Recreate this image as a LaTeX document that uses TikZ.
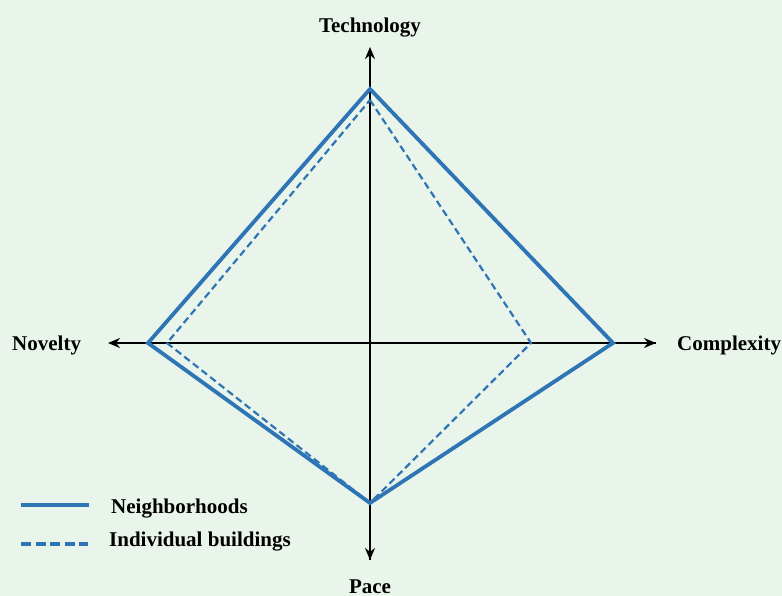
\documentclass[tikz,border=0pt]{standalone}
\usepackage{fontspec}
\setmainfont{Liberation Serif}
\usetikzlibrary{arrows.meta}
\definecolor{bgcol}{RGB}{233,244,234}
\definecolor{lineblue}{RGB}{46,117,182}
\begin{document}
\begin{tikzpicture}[x=1pt,y=-1pt,
    axis/.style={line width=2.5pt,-{Stealth[length=12pt,width=10pt]}},
    hood/.style={lineblue,line width=3.8pt,line join=miter},
    bldg/.style={lineblue,line width=2.2pt,dash pattern=on 7pt off 4pt},
    lbl/.style={inner sep=0pt,anchor=base,font=\bfseries\fontsize{21}{25}\selectfont}]
  \fill[bgcol] (0,0) rectangle (782,596);
  \useasboundingbox (0,0) rectangle (782,596);
  % axes
  \coordinate (o) at (370,343);
  \coordinate (top) at (370,47);
  \coordinate (bot) at (370,560);
  \coordinate (lft) at (108,343);
  \coordinate (rgt) at (656,343);
  \draw[axis] (bot) -- (top);
  \draw[axis] (o) -- (bot);
  \draw[axis] (rgt) -- (lft);
  \draw[axis] (o) -- (rgt);
  \node[lbl] (tech) at (370,33) {Technology};
  \node[lbl] (pace) at (370,593) {Pace};
  \node[lbl,anchor=base west] (nov) at (12,350) {Novelty};
  \node[lbl,anchor=base west] (comp) at (677,350) {Complexity};
  % neighborhoods
  \coordinate (n1) at (370,89);
  \coordinate (n2) at (613,343);
  \coordinate (n3) at (370,503);
  \coordinate (n4) at (148,343);
  \draw[hood] (n1) -- (n2) -- (n3) -- (n4) -- cycle;
  % individual buildings
  \coordinate (b1) at (370,100);
  \coordinate (b2) at (531,343);
  \coordinate (b3) at (370,503);
  \coordinate (b4) at (167,343);
  \draw[bldg] (b1) -- (b2) -- (b3) -- (b4) -- cycle;
  % legend
  \coordinate (ls1) at (21,505);
  \coordinate (ls2) at (89,505);
  \coordinate (ld1) at (21,544);
  \coordinate (ld2) at (88,544);
  \draw[hood] (ls1) -- (ls2);
  \draw[bldg,line width=3.6pt,dash pattern=on 10pt off 4.5pt] (ld1) -- (ld2);
  \node[lbl,anchor=base west] (leg1) at (111,513) {Neighborhoods};
  \node[lbl,anchor=base west] (leg2) at (109,546) {Individual buildings};
\end{tikzpicture}
\end{document}
